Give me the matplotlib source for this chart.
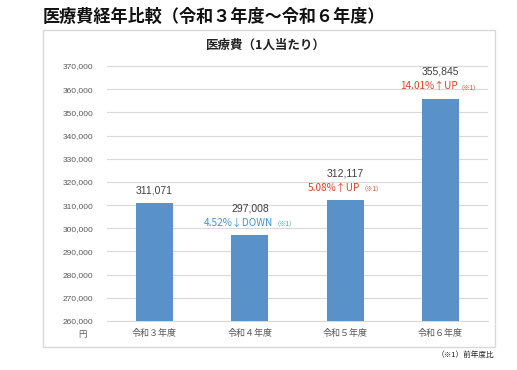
import matplotlib
matplotlib.use("Agg")
import matplotlib.pyplot as plt
from matplotlib.patches import Rectangle
from matplotlib.offsetbox import TextArea, HPacker, AnnotationBbox

plt.rcParams['font.family'] = ['Noto Sans CJK JP', 'DejaVu Sans']

# data
categories = ["令和３年度", "令和４年度", "令和５年度", "令和６年度"]
values = [311071, 297008, 312117, 355845]
changeText = [None, "4.52%↓DOWN", "5.08%↑UP", "14.01%↑UP"]
changeColors = [None, "#3A97D4", "#E2401C", "#E2401C"]
yTicks = list(range(260000, 370001, 10000))

barColor = "#5892C9"
textGray = "#595959"
numFont = ['Liberation Sans', 'Noto Sans CJK JP']

fig = plt.figure(figsize=(5.17, 3.70), dpi=100)
fig.patch.set_facecolor("white")

# chart frame
fig.patches.append(Rectangle((0.083, 0.062), 0.874, 0.857, transform=fig.transFigure,
                             fill=False, edgecolor="#D9D9D9", linewidth=1.0))

fig.text(0.083, 0.955, "医療費経年比較（令和３年度～令和６年度）", fontsize=12.3,
         fontweight="bold", ha="left", va="center", color="#111111")
fig.text(0.515, 0.878, "医療費（1人当たり）", fontsize=9, fontweight="bold",
         ha="center", va="center", color="#222222")
fig.text(0.957, 0.040, "（※1）前年度比", fontsize=5.5, ha="right", va="center",
         color="#222222")
fig.text(0.160, 0.095, "円", fontsize=6, ha="center", va="center", color=textGray)

ax = fig.add_axes([0.207, 0.1324, 0.737, 0.6892])
x = list(range(len(categories)))
ax.bar(x, values, width=0.39, color=barColor, zorder=3)

ax.set_ylim(260000, 370000)
ax.set_xlim(-0.5, len(categories) - 0.5)
ax.set_yticks(yTicks)
ax.set_yticklabels(["{:,}".format(v) for v in yTicks], fontsize=6, color=textGray,
                   family=numFont)
ax.set_xticks(x)
ax.set_xticklabels(categories, fontsize=6.5, color=textGray)
ax.tick_params(length=0, pad=6)
ax.tick_params(axis="y", pad=10)
ax.grid(axis="y", color="#D9D9D9", linewidth=0.8, zorder=0)
for side in ["top", "right", "left"]:
    ax.spines[side].set_visible(False)
ax.spines["bottom"].set_color("#D9D9D9")

for i, v in enumerate(values):
    offset = 9 if changeText[i] is None else 19.5
    ax.annotate("{:,}".format(v), (i, v), xytext=(0, offset), textcoords="offset points",
                ha="center", va="center", fontsize=7.5, color="#404040", family=numFont)
    if changeText[i] is None:
        continue
    mainPart = TextArea(changeText[i], textprops=dict(fontsize=7.2, color=changeColors[i]))
    notePart = TextArea("（※1）", textprops=dict(fontsize=4.5, color=changeColors[i]))
    box = HPacker(children=[mainPart, notePart], align="baseline", pad=0, sep=0)
    ab = AnnotationBbox(box, (i, v), xybox=(0, 9), boxcoords="offset points",
                        frameon=False, box_alignment=(0.5, 0.5))
    ax.add_artist(ab)

fig.savefig("out.png", dpi=100)
